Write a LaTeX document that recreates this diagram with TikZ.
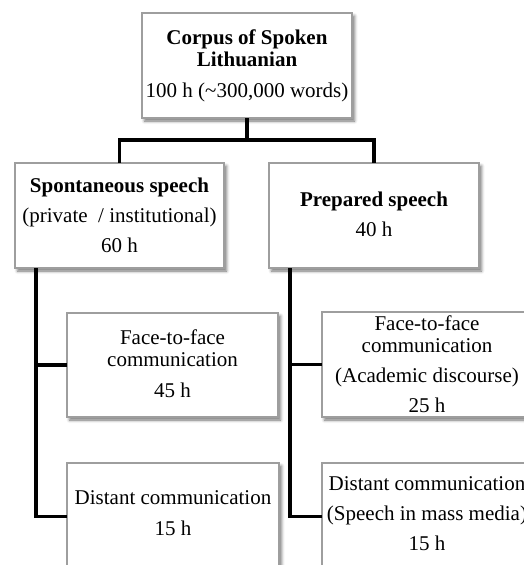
\documentclass[tikz,border=0pt]{standalone}
\usepackage{fontspec}
\setmainfont{Liberation Serif}
\usetikzlibrary{shadows.blur}
\begin{document}
\begin{tikzpicture}[x=1pt,y=-1pt,
  boxstyle/.style={draw=black!38, line width=1.1pt, fill=white, blur shadow={shadow xshift=2.5pt, shadow yshift=-3pt, shadow blur radius=3pt, shadow opacity=55}},
  txt/.style={anchor=base, align=center, font=\fontsize{21}{21.5}\selectfont, inner sep=0pt},
  conn/.style={line width=3.8pt, line join=miter}]
\useasboundingbox (0,0) rectangle (524,565);
\clip (0,0) rectangle (524,565);
% boxes
\path[boxstyle] (142,13) rectangle (352,118);
\path[boxstyle] (15,163) rectangle (224,268);
\path[boxstyle] (269,163) rectangle (479,268);
\path[boxstyle] (67,313) rectangle (278,417);
\path[boxstyle] (67,463) rectangle (279,570);
\path[boxstyle] (322,312) rectangle (535,417);
\path[boxstyle] (322,463) rectangle (535,570);
% named nodes over boxes
\node[inner sep=0pt, minimum width=210pt, minimum height=105pt] (top) at (247,65.5) {};
\node[inner sep=0pt, minimum width=209pt, minimum height=105pt] (spont) at (119.5,215.5) {};
\node[inner sep=0pt, minimum width=210pt, minimum height=105pt] (prep) at (374,215.5) {};
\node[inner sep=0pt, minimum width=211pt, minimum height=104pt] (lface) at (172.5,365) {};
\node[inner sep=0pt, minimum width=212pt, minimum height=107pt] (ldist) at (173,516.5) {};
\node[inner sep=0pt, minimum width=213pt, minimum height=105pt] (rface) at (428.5,364.5) {};
\node[inner sep=0pt, minimum width=213pt, minimum height=107pt] (rdist) at (428.5,516.5) {};
% texts (anchored at the baseline of the last line)
\node[txt] (topt) at (247,97) {\textbf{Corpus of Spoken}\\\textbf{Lithuanian}\\[9.5pt]100 h (\textasciitilde300,000 words)};
\node[txt] (spontt) at (119.5,252) {\textbf{Spontaneous speech}\\[8.5pt](private\ \ / institutional)\\[8.5pt]60 h};
\node[txt] (prept) at (374,236) {\textbf{Prepared speech}\\[8.5pt]40 h};
\node[txt] (lfacet) at (172.5,397) {Face-to-face\\communication\\[9.5pt]45 h};
\node[txt] (rfacet) at (427,412) {Face-to-face\\communication\\[8.5pt](Academic discourse)\\[8.5pt]25 h};
\node[txt] (ldistt) at (173,535) {Distant communication\\[9.5pt]15 h};
\node[txt] (rdistt) at (427,550) {Distant communication\\[8.5pt](Speech in mass media)\\[8.5pt]15 h};
% connectors
\coordinate (bar) at (247,140);
\coordinate (lt) at (36,268);
\coordinate (rt) at (290,268);
\draw[conn] (top.south) -- (bar);
\draw[conn] (spont.north) |- (bar) -| (prep.north);
\draw[conn] (lt) |- (ldist.west);
\draw[conn] (lt) |- (lface.west);
\draw[conn] (rt) |- (rdist.west);
\draw[conn] (rt) |- (rface.west);
\end{tikzpicture}
\end{document}
